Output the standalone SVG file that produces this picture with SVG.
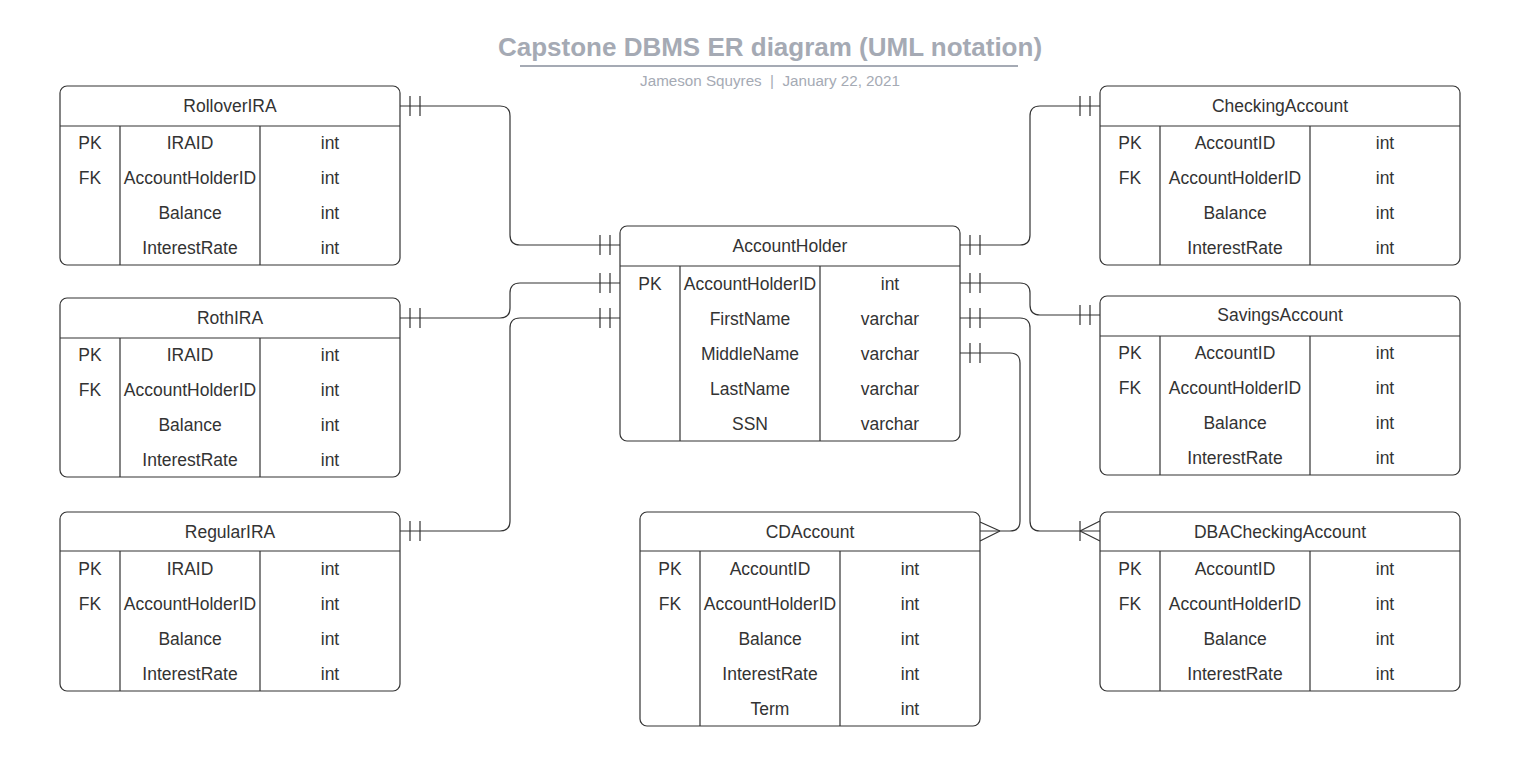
<svg xmlns="http://www.w3.org/2000/svg" width="1516" height="770" viewBox="0 0 1516 770">
<style>
.box{fill:#fff;stroke:#333;stroke-width:1.2}
.ln{stroke:#333;stroke-width:1.2;fill:none}
.t{font-family:"Liberation Sans",Arial,sans-serif;font-size:17.5px;fill:#333;text-anchor:middle}
.c{stroke:#333;stroke-width:1.2;fill:none}
.title{font-family:"Liberation Sans",Arial,sans-serif;font-size:26px;font-weight:bold;fill:#a5aab4;text-anchor:middle}
.sub{font-family:"Liberation Sans",Arial,sans-serif;font-size:15.2px;fill:#a5aab4;text-anchor:middle;white-space:pre}
</style>
<rect width="1516" height="770" fill="#fff"/>
<g id="title">
<text class="title" x="770" y="56">Capstone DBMS ER diagram (UML notation)</text>
<line x1="520" y1="66" x2="1018" y2="66" stroke="#a5aab4" stroke-width="2"/>
<text class="sub" x="770" y="86">Jameson Squyres  |  January 22, 2021</text>
</g>

<g id="connectors">
<path class="c" d="M400,106 H500 Q510,106 510,116 V235 Q510,245 520,245 H620"/>
<path class="c" d="M410,96 V116 M420,96 V116 M600,235 V255 M610,235 V255"/>
<path class="c" d="M400,318 H500 Q510,318 510,308 V293 Q510,283 520,283 H620"/>
<path class="c" d="M410,308 V328 M420,308 V328 M600,273 V293 M610,273 V293"/>
<path class="c" d="M400,531 H500 Q510,531 510,521 V328 Q510,318 520,318 H620"/>
<path class="c" d="M410,521 V541 M420,521 V541 M600,308 V328 M610,308 V328"/>
<path class="c" d="M960,245 H1020 Q1030,245 1030,235 V116 Q1030,106 1040,106 H1100"/>
<path class="c" d="M970,235 V255 M980,235 V255 M1080,96 V116 M1090,96 V116"/>
<path class="c" d="M960,283 H1020 Q1030,283 1030,293 V305 Q1030,315 1040,315 H1100"/>
<path class="c" d="M970,273 V293 M980,273 V293 M1080,305 V325 M1090,305 V325"/>
<path class="c" d="M960,318 H1020 Q1030,318 1030,328 V521 Q1030,531 1040,531 H1100"/>
<path class="c" d="M970,308 V328 M980,308 V328 M1080,521 V541 M1080,531 L1100,521 M1080,531 L1100,541"/>
<path class="c" d="M960,353 H1010 Q1020,353 1020,363 V521 Q1020,531 1010,531 H980"/>
<path class="c" d="M970,343 V363 M980,343 V363 M1000,531 L980,522 M1000,531 L980,541"/>
</g>

<g id="RolloverIRA">
<rect class="box" x="60" y="86" width="340" height="179" rx="7"/>
<path class="ln" d="M60,126 H400 M120,126 V265 M260,126 V265"/>
<text class="t" x="230" y="112">RolloverIRA</text>
<text class="t" x="90" y="149">PK</text><text class="t" x="190" y="149">IRAID</text><text class="t" x="330" y="149">int</text>
<text class="t" x="90" y="184">FK</text><text class="t" x="190" y="184">AccountHolderID</text><text class="t" x="330" y="184">int</text>
<text class="t" x="190" y="219">Balance</text><text class="t" x="330" y="219">int</text>
<text class="t" x="190" y="254">InterestRate</text><text class="t" x="330" y="254">int</text>
</g>

<g id="RothIRA">
<rect class="box" x="60" y="298" width="340" height="179" rx="7"/>
<path class="ln" d="M60,338 H400 M120,338 V477 M260,338 V477"/>
<text class="t" x="230" y="324">RothIRA</text>
<text class="t" x="90" y="361">PK</text><text class="t" x="190" y="361">IRAID</text><text class="t" x="330" y="361">int</text>
<text class="t" x="90" y="396">FK</text><text class="t" x="190" y="396">AccountHolderID</text><text class="t" x="330" y="396">int</text>
<text class="t" x="190" y="431">Balance</text><text class="t" x="330" y="431">int</text>
<text class="t" x="190" y="466">InterestRate</text><text class="t" x="330" y="466">int</text>
</g>

<g id="RegularIRA">
<rect class="box" x="60" y="512" width="340" height="179" rx="7"/>
<path class="ln" d="M60,551 H400 M120,551 V691 M260,551 V691"/>
<text class="t" x="230" y="538">RegularIRA</text>
<text class="t" x="90" y="575">PK</text><text class="t" x="190" y="575">IRAID</text><text class="t" x="330" y="575">int</text>
<text class="t" x="90" y="610">FK</text><text class="t" x="190" y="610">AccountHolderID</text><text class="t" x="330" y="610">int</text>
<text class="t" x="190" y="645">Balance</text><text class="t" x="330" y="645">int</text>
<text class="t" x="190" y="680">InterestRate</text><text class="t" x="330" y="680">int</text>
</g>

<g id="AccountHolder">
<rect class="box" x="620" y="226" width="340" height="215" rx="7"/>
<path class="ln" d="M620,266 H960 M680,266 V441 M820,266 V441"/>
<text class="t" x="790" y="252">AccountHolder</text>
<text class="t" x="650" y="290">PK</text><text class="t" x="750" y="290">AccountHolderID</text><text class="t" x="890" y="290">int</text>
<text class="t" x="750" y="325">FirstName</text><text class="t" x="890" y="325">varchar</text>
<text class="t" x="750" y="360">MiddleName</text><text class="t" x="890" y="360">varchar</text>
<text class="t" x="750" y="395">LastName</text><text class="t" x="890" y="395">varchar</text>
<text class="t" x="750" y="430">SSN</text><text class="t" x="890" y="430">varchar</text>
</g>

<g id="CDAccount">
<rect class="box" x="640" y="512" width="340" height="214" rx="7"/>
<path class="ln" d="M640,551 H980 M700,551 V726 M840,551 V726"/>
<text class="t" x="810" y="538">CDAccount</text>
<text class="t" x="670" y="575">PK</text><text class="t" x="770" y="575">AccountID</text><text class="t" x="910" y="575">int</text>
<text class="t" x="670" y="610">FK</text><text class="t" x="770" y="610">AccountHolderID</text><text class="t" x="910" y="610">int</text>
<text class="t" x="770" y="645">Balance</text><text class="t" x="910" y="645">int</text>
<text class="t" x="770" y="680">InterestRate</text><text class="t" x="910" y="680">int</text>
<text class="t" x="770" y="715">Term</text><text class="t" x="910" y="715">int</text>
</g>

<g id="CheckingAccount">
<rect class="box" x="1100" y="86" width="360" height="179" rx="7"/>
<path class="ln" d="M1100,126 H1460 M1160,126 V265 M1310,126 V265"/>
<text class="t" x="1280" y="112">CheckingAccount</text>
<text class="t" x="1130" y="149">PK</text><text class="t" x="1235" y="149">AccountID</text><text class="t" x="1385" y="149">int</text>
<text class="t" x="1130" y="184">FK</text><text class="t" x="1235" y="184">AccountHolderID</text><text class="t" x="1385" y="184">int</text>
<text class="t" x="1235" y="219">Balance</text><text class="t" x="1385" y="219">int</text>
<text class="t" x="1235" y="254">InterestRate</text><text class="t" x="1385" y="254">int</text>
</g>

<g id="SavingsAccount">
<rect class="box" x="1100" y="296" width="360" height="179" rx="7"/>
<path class="ln" d="M1100,336 H1460 M1160,336 V475 M1310,336 V475"/>
<text class="t" x="1280" y="321">SavingsAccount</text>
<text class="t" x="1130" y="359">PK</text><text class="t" x="1235" y="359">AccountID</text><text class="t" x="1385" y="359">int</text>
<text class="t" x="1130" y="394">FK</text><text class="t" x="1235" y="394">AccountHolderID</text><text class="t" x="1385" y="394">int</text>
<text class="t" x="1235" y="429">Balance</text><text class="t" x="1385" y="429">int</text>
<text class="t" x="1235" y="464">InterestRate</text><text class="t" x="1385" y="464">int</text>
</g>

<g id="DBACheckingAccount">
<rect class="box" x="1100" y="512" width="360" height="179" rx="7"/>
<path class="ln" d="M1100,551 H1460 M1160,551 V691 M1310,551 V691"/>
<text class="t" x="1280" y="538">DBACheckingAccount</text>
<text class="t" x="1130" y="575">PK</text><text class="t" x="1235" y="575">AccountID</text><text class="t" x="1385" y="575">int</text>
<text class="t" x="1130" y="610">FK</text><text class="t" x="1235" y="610">AccountHolderID</text><text class="t" x="1385" y="610">int</text>
<text class="t" x="1235" y="645">Balance</text><text class="t" x="1385" y="645">int</text>
<text class="t" x="1235" y="680">InterestRate</text><text class="t" x="1385" y="680">int</text>
</g>
</svg>
